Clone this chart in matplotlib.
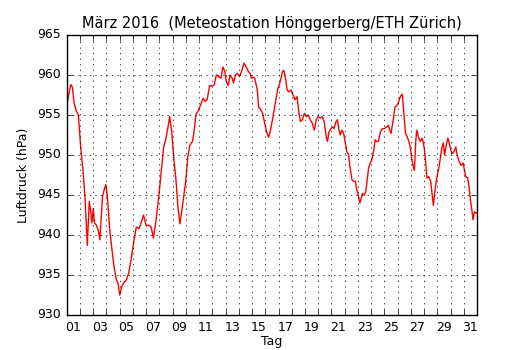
import numpy as np
import matplotlib
matplotlib.use("Agg")
import matplotlib.pyplot as plt

# Luftdruck Hönggerberg, März 2016
tag = [0.0, 0.12, 0.3, 0.42, 0.55, 0.7, 0.875, 1.05, 1.2, 1.375, 1.55, 1.7, 1.8,
       1.9, 2.0, 2.1, 2.25, 2.4, 2.5, 2.7, 2.85, 2.95, 3.07, 3.25, 3.42, 3.575,
       3.75, 3.87, 4.0, 4.15, 4.3, 4.5, 4.675, 4.875, 5.05, 5.25, 5.45, 5.62,
       5.8, 6.0, 6.2, 6.375, 6.55, 6.75, 6.95, 7.15, 7.325, 7.5, 7.65, 7.775,
       7.93, 8.075, 8.25, 8.4, 8.55, 8.7, 8.85, 9.0, 9.15, 9.3, 9.5, 9.65, 9.75,
       9.95, 10.1, 10.3, 10.45, 10.6, 10.8, 11.0, 11.15, 11.3, 11.48, 11.65,
       11.8, 11.95, 12.05, 12.2, 12.35, 12.5, 12.6, 12.75, 12.9, 13.05, 13.2,
       13.4, 13.55, 13.7, 13.85, 13.95, 14.1, 14.2, 14.4, 14.5, 14.65, 14.8,
       14.95, 15.1, 15.25, 15.37, 15.5, 15.65, 15.8, 15.95, 16.1, 16.3, 16.4,
       16.53, 16.65, 16.8, 16.95, 17.1, 17.25, 17.4, 17.55, 17.65, 17.8, 17.95,
       18.1, 18.25, 18.4, 18.55, 18.7, 18.85, 19.0, 19.15, 19.3, 19.45, 19.6,
       19.7, 19.82, 19.95, 20.1, 20.2, 20.35, 20.45, 20.55, 20.67, 20.8, 20.92,
       21.05, 21.17, 21.3, 21.4, 21.55, 21.7, 21.8, 21.9, 22.05, 22.15, 22.25,
       22.35, 22.48, 22.6, 22.7, 22.8, 22.93, 23.05, 23.2, 23.3, 23.4, 23.55,
       23.7, 23.85, 24.0, 24.15, 24.3, 24.4, 24.5, 24.6, 24.7, 24.8, 24.95,
       25.05, 25.2, 25.35, 25.45, 25.6, 25.72, 25.85, 25.95, 26.1, 26.2, 26.27,
       26.37, 26.45, 26.6, 26.72, 26.85, 26.95, 27.05, 27.15, 27.22, 27.35,
       27.5, 27.6, 27.7, 27.8, 27.9, 28.05, 28.15, 28.25, 28.35, 28.45, 28.55,
       28.65, 28.8, 28.9, 29.0, 29.1, 29.25, 29.4, 29.5, 29.65, 29.8, 29.95,
       30.05, 30.15, 30.3, 30.4, 30.5, 30.6, 30.7, 30.8, 30.95, 31.0]
druck = [956.2, 957.3, 958.8, 958.5, 956.5, 955.6, 955.0, 951.0, 948.5, 944.8,
         938.7, 944.2, 943.1, 941.5, 943.3, 941.5, 941.2, 940.4, 939.4, 944.8,
         945.8, 946.3, 944.8, 940.6, 938.1, 936.0, 934.4, 934.0, 932.5, 933.5,
         934.0, 934.4, 935.2, 937.1, 939.0, 941.0, 940.8, 941.5, 942.5, 941.2,
         941.2, 941.0, 939.6, 941.9, 944.8, 948.1, 951.0, 952.1, 953.5, 954.8,
         952.9, 949.8, 946.9, 943.5, 941.4, 943.1, 945.0, 946.9, 949.8, 951.2,
         951.7, 953.3, 955.0, 955.6, 956.2, 957.1, 956.7, 956.9, 958.7, 958.6,
         958.8, 960.0, 959.8, 959.6, 961.0, 960.4, 959.2, 958.7, 960.0, 959.6,
         959.0, 960.0, 960.2, 959.8, 960.4, 961.5, 961.0, 960.5, 960.2, 959.6,
         959.7, 959.6, 958.1, 956.0, 955.7, 955.2, 954.0, 952.9, 952.2, 952.9,
         954.0, 955.4, 956.9, 958.3, 959.0, 960.4, 960.6, 959.6, 958.1, 957.9,
         958.1, 957.5, 956.9, 957.3, 955.2, 954.2, 954.4, 955.2, 954.8, 955.0,
         954.4, 954.0, 953.1, 954.4, 954.8, 954.6, 954.8, 954.2, 952.3, 951.7,
         952.9, 953.3, 953.5, 953.3, 954.2, 954.4, 953.3, 952.5, 953.1, 952.7,
         951.5, 950.4, 950.0, 948.5, 946.9, 946.7, 946.7, 945.8, 944.8, 944.0,
         944.6, 945.2, 945.0, 945.4, 946.9, 948.3, 949.0, 949.4, 950.6, 951.9,
         951.7, 951.7, 952.9, 953.3, 953.3, 953.5, 953.7, 953.1, 952.7, 953.7,
         954.8, 956.0, 956.2, 956.5, 957.3, 957.6, 955.6, 952.7, 952.3, 951.7,
         951.0, 949.2, 948.5, 948.1, 951.7, 953.1, 952.1, 951.7, 952.1, 951.5,
         950.4, 948.5, 947.1, 947.3, 946.7, 945.2, 943.7, 945.2, 946.5, 947.9,
         948.7, 949.8, 951.0, 951.5, 950.0, 951.0, 952.1, 951.5, 950.8, 950.2,
         950.4, 951.0, 950.0, 949.2, 948.7, 949.0, 948.1, 947.3, 947.1, 946.0,
         944.4, 943.3, 941.9, 942.9, 942.7, 942.8]

tag_ticks = np.arange(0, 32)
tag_labels = ["%02d" % d for d in range(1, 32, 2)]

plt.style.use("classic")
plt.rcParams["figure.facecolor"] = "white"
plt.rcParams["savefig.facecolor"] = "white"

fig = plt.figure(figsize=(5.3, 3.5), dpi=100)
ax = fig.add_axes([0.126, 0.1, 0.774, 0.8])

ax.plot(tag, druck, color="red", linewidth=1.0)

ax.set_xlim(0, 31)
ax.set_ylim(930, 965)
ax.set_xticks(tag_ticks)
ax.set_xticklabels([])
ax.set_xticks(np.arange(0.5, 31, 2), minor=True)
ax.set_xticklabels(tag_labels, minor=True)
ax.tick_params(axis="x", which="minor", length=0, labelsize=9)
ax.set_yticks(np.arange(930, 966, 5))
ax.tick_params(axis="y", labelsize=9)
ax.grid(True, which="major", color="k", linestyle=":", linewidth=0.5)

ax.set_title("März 2016  (Meteostation Hönggerberg/ETH Zürich)", fontsize=10.5)
ax.set_xlabel("Tag", fontsize=9, labelpad=1)
ax.set_ylabel("Luftdruck (hPa)", fontsize=9)

fig.savefig("out.png", dpi=100)
